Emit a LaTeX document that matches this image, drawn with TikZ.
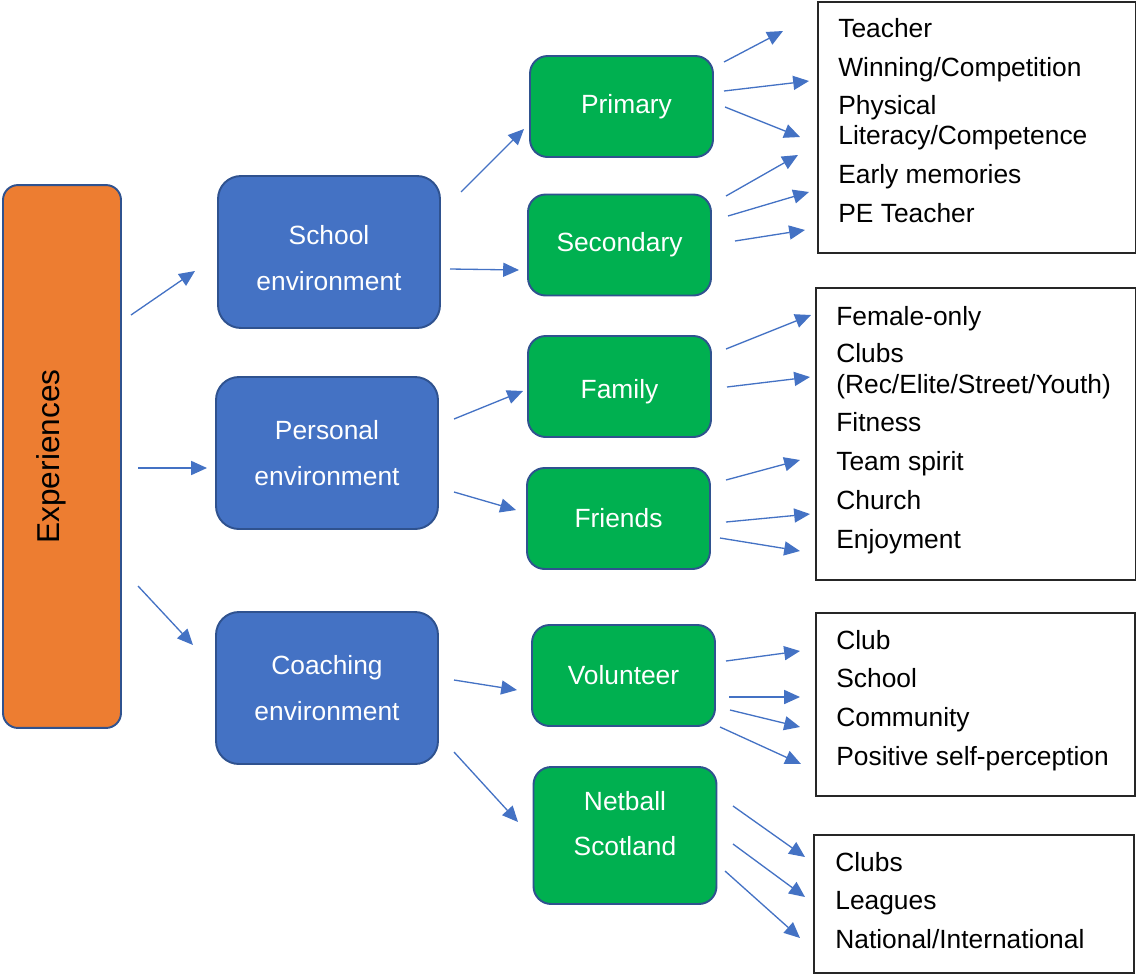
\documentclass[tikz,border=0pt]{standalone}
\usepackage{fontspec}
\setmainfont{Liberation Sans}
\usepackage{xcolor}
\usetikzlibrary{arrows.meta}

\definecolor{envblue}{HTML}{4472C4}
\definecolor{edgeblue}{HTML}{2F528F}
\definecolor{stagegreen}{HTML}{00B050}
\definecolor{exporange}{HTML}{ED7D31}

\tikzset{
  boxtext/.style={text=white, align=center, font=\fontsize{15}{26.5}\selectfont},
  env/.style={draw=edgeblue, line width=1.1pt, fill=envblue, rounded corners=13pt,
    minimum width=4.44cm, minimum height=3.04cm, boxtext},
  stage/.style={draw=edgeblue, line width=1.1pt, fill=stagegreen, rounded corners=10pt,
    minimum width=3.66cm, minimum height=2.02cm, boxtext},
  listbox/.style={draw=black!85, line width=0.8pt, inner sep=0pt},
  entry/.style={anchor=west, inner sep=0pt, font=\fontsize{15}{18}\selectfont,
    text height=10.7pt, text depth=0pt},
  arr/.style={draw=envblue, line width=0.75pt, -{Triangle[length=9pt, width=8pt]}}
}

\begin{document}
\begin{tikzpicture}[x=0.02cm, y=-0.02cm]
\useasboundingbox (0,0) rectangle (1136,974);

% main block
\node[draw=edgeblue, line width=1.1pt, fill=exporange, rounded corners=8.5pt, rotate=90,
  minimum width=10.86cm, minimum height=2.36cm, font=\fontsize{18}{20}\selectfont,
  text height=13pt, text depth=16pt] (exp) at (62,456.5) {Experiences};

% environments
\node[env] (school) at (329,252) {};
\node[boxtext] at ([yshift=-0.12cm]school.center) {School\\environment};
\node[env] (personal) at (327,453) {Personal\\environment};
\node[env] (coaching) at (327,688) {Coaching\\environment};

% stages
\node[stage] (primary) at (621.5,106.5) {};
\node[boxtext] at ([xshift=0.1cm]primary.center) {Primary};
\node[stage] (secondary) at (619.5,245) {Secondary};
\node[stage] (family) at (619.5,386.5) {};
\node[boxtext] at ([yshift=-0.1cm]family.center) {Family};
\node[stage] (friends) at (618.5,518.5) {Friends};
\node[stage] (volunteer) at (623.5,675.5) {Volunteer};
\node[stage, minimum height=2.74cm] (netball) at (625,835.5) {};
\node[boxtext, font=\fontsize{15}{26}\selectfont] at ([yshift=0.24cm]netball.center) {Netball\\Scotland};

% outcome lists
\node[listbox, minimum width=6.36cm, minimum height=5.02cm] (list1) at (977,127.5) {};
\node[listbox, minimum width=6.4cm, minimum height=5.84cm] (list2) at (976,434) {};
\node[listbox, minimum width=6.38cm, minimum height=3.66cm] (list3) at (975.5,704.5) {};
\node[listbox, minimum width=6.4cm, minimum height=2.76cm] (list4) at (974,904) {};

\node[entry] (l1a) at (838,28) {Teacher};
\node[entry] (l1b) at (838,67) {Winning/Competition};
\node[entry] (l1c) at (838,105) {Physical};
\node[entry] (l1d) at (838,135) {Literacy/Competence};
\node[entry] (l1e) at (838,174) {Early memories};
\node[entry] (l1f) at (838,213) {PE Teacher};

\node[entry] (l2a) at (836,316) {Female-only};
\node[entry] (l2b) at (836,353) {Clubs};
\node[entry] (l2c) at (836,384) {(Rec/Elite/Street/Youth)};
\node[entry] (l2d) at (836,422) {Fitness};
\node[entry] (l2e) at (836,461) {Team spirit};
\node[entry] (l2f) at (836,500) {Church};
\node[entry] (l2g) at (836,539) {Enjoyment};

\node[entry] (l3a) at (836,640) {Club};
\node[entry] (l3b) at (836,678) {School};
\node[entry] (l3c) at (836,717) {Community};
\node[entry] (l3d) at (836,756) {Positive self-perception};

\node[entry] (l4a) at (835,862) {Clubs};
\node[entry] (l4b) at (835,900) {Leagues};
\node[entry] (l4c) at (835,939) {National/International};

% arrow ends
\coordinate (a1) at (131,315);  \coordinate (b1) at (195,271);
\coordinate (a2) at (138,468);  \coordinate (b2) at (207,468);
\coordinate (a3) at (138,586);  \coordinate (b3) at (193,645);
\coordinate (a4) at (461,192);  \coordinate (b4) at (524,129);
\coordinate (a5) at (450,269);  \coordinate (b5) at (519,270);
\coordinate (a6) at (454,419);  \coordinate (b6) at (523,391);
\coordinate (a7) at (454,492);  \coordinate (b7) at (516,510);
\coordinate (a8) at (454,680);  \coordinate (b8) at (517,690);
\coordinate (a9) at (454,752);  \coordinate (b9) at (518,822);
\coordinate (a10) at (724,62);  \coordinate (b10) at (783,31);
\coordinate (a11) at (724,91);  \coordinate (b11) at (809,81);
\coordinate (a12) at (725,107); \coordinate (b12) at (800,137);
\coordinate (a13) at (726,196); \coordinate (b13) at (798,155);
\coordinate (a14) at (728,216); \coordinate (b14) at (809,192);
\coordinate (a15) at (735,241); \coordinate (b15) at (805,230);
\coordinate (a16) at (726,349); \coordinate (b16) at (811,315);
\coordinate (a17) at (727,387); \coordinate (b17) at (810,377);
\coordinate (a18) at (726,480); \coordinate (b18) at (800,460);
\coordinate (a19) at (726,522); \coordinate (b19) at (810,514);
\coordinate (a20) at (720,538); \coordinate (b20) at (800,551);
\coordinate (a21) at (726,661); \coordinate (b21) at (800,651);
\coordinate (a22) at (729,697); \coordinate (b22) at (800,697);
\coordinate (a23) at (730,710); \coordinate (b23) at (800,727);
\coordinate (a24) at (720,727); \coordinate (b24) at (801,764);
\coordinate (a25) at (733,806); \coordinate (b25) at (805,857);
\coordinate (a26) at (733,844); \coordinate (b26) at (805,897);
\coordinate (a27) at (725,871); \coordinate (b27) at (800,938);

\foreach \i in {1,...,27}
  \draw[arr] (a\i) -- (b\i);
\end{tikzpicture}
\end{document}
